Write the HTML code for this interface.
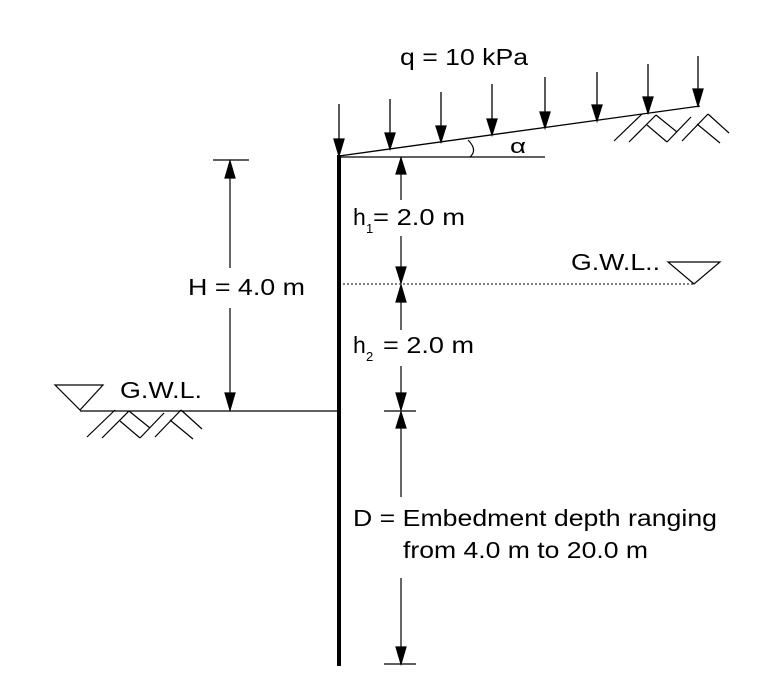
<!DOCTYPE html>
<html><head><meta charset="utf-8"><style>
html,body{margin:0;padding:0;background:#fff;}
svg{display:block;}
text{font-family:"Liberation Sans",Arial,sans-serif;fill:#000;}
</style></head><body>
<svg width="757" height="693" viewBox="0 0 757 693" xmlns="http://www.w3.org/2000/svg">
<defs>
<g id="hatch" stroke="#000" stroke-width="1.2" fill="none">
<line x1="614" y1="141" x2="642" y2="114"/>
<line x1="629" y1="142" x2="656" y2="115"/>
<line x1="647" y1="125" x2="667" y2="142"/>
<line x1="656" y1="115" x2="677" y2="132"/>
<line x1="667" y1="142" x2="691" y2="117"/>
<line x1="682" y1="141" x2="708" y2="114"/>
<line x1="708" y1="114" x2="729" y2="133"/>
<line x1="697" y1="124" x2="720" y2="143"/>
</g>
</defs>
<rect x="337" y="155" width="4" height="511" fill="#000"/>
<line x1="339" y1="156" x2="700" y2="106" stroke="#000" stroke-width="1.3"/>
<line x1="339" y1="157" x2="545" y2="157" stroke="#000" stroke-width="1.2"/>
<path d="M468,140 Q478,150 470,157" stroke="#000" fill="none" stroke-width="1.2"/>
<text x="510" y="153" font-size="20" textLength="16" lengthAdjust="spacingAndGlyphs">α</text>
<text x="400" y="65" font-size="23" textLength="128" lengthAdjust="spacingAndGlyphs">q = 10 kPa</text>
<g stroke="#000" stroke-width="1.3" fill="#000">
<line x1="339" y1="104" x2="339" y2="140"/><polygon points="334,139 344,139 339,156"/>
<line x1="390" y1="99" x2="390" y2="133"/><polygon points="385,133 395,133 390,149"/>
<line x1="441" y1="92" x2="441" y2="126"/><polygon points="436,126 446,126 441,142"/>
<line x1="492" y1="84" x2="492" y2="119"/><polygon points="487,119 497,119 492,135"/>
<line x1="545" y1="77" x2="545" y2="112"/><polygon points="540,112 550,112 545,128"/>
<line x1="597" y1="72" x2="597" y2="105"/><polygon points="592,105 602,105 597,121"/>
<line x1="648" y1="64" x2="648" y2="98"/><polygon points="643,97 653,97 648,113"/>
<line x1="698" y1="56" x2="698" y2="90"/><polygon points="693,89 703,89 698,106"/>
</g>
<use href="#hatch"/>
<use href="#hatch" transform="translate(-527,296)"/>
<g stroke="#000" stroke-width="1.2" fill="#000">
<line x1="213" y1="160" x2="249" y2="160"/>
<line x1="230" y1="160" x2="230" y2="268"/>
<line x1="230" y1="308" x2="230" y2="410"/>
<polygon points="225,178 235,178 230,161"/>
<polygon points="225,393 235,393 230,410"/>
</g>
<text x="188" y="295" font-size="23" textLength="117" lengthAdjust="spacingAndGlyphs">H = 4.0 m</text>
<line x1="80" y1="411" x2="339" y2="411" stroke="#000" stroke-width="1.2"/>
<polygon points="55,385 103,385 80,410" fill="none" stroke="#000" stroke-width="1.2"/>
<text x="120" y="398" font-size="23" textLength="82" lengthAdjust="spacingAndGlyphs">G.W.L.</text>
<line x1="339" y1="284" x2="695" y2="284" stroke="#000" stroke-width="1" stroke-dasharray="2,2"/>
<polygon points="668,262 720,262 694,284" fill="none" stroke="#000" stroke-width="1.2"/>
<text x="571" y="270" font-size="23" textLength="89" lengthAdjust="spacingAndGlyphs">G.W.L..</text>
<g stroke="#000" stroke-width="1.2" fill="#000">
<line x1="401" y1="157" x2="401" y2="200"/>
<polygon points="396,174 406,174 401,158"/>
<line x1="401" y1="236" x2="401" y2="284"/>
<polygon points="396,267 406,267 401,283"/>
<polygon points="396,302 406,302 401,285"/>
<line x1="401" y1="285" x2="401" y2="330"/>
<line x1="401" y1="366" x2="401" y2="410"/>
<polygon points="396,393 406,393 401,410"/>
<line x1="384" y1="411" x2="416" y2="411"/>
<polygon points="396,428 406,428 401,412"/>
<line x1="401" y1="412" x2="401" y2="497"/>
<line x1="401" y1="578" x2="401" y2="664"/>
<polygon points="396,647 406,647 401,664"/>
<line x1="384" y1="664" x2="416" y2="664"/>
</g>
<text x="353" y="225" font-size="23">h</text>
<text x="366" y="233" font-size="13">1</text>
<text x="373" y="225" font-size="23" textLength="92" lengthAdjust="spacingAndGlyphs">= 2.0 m</text>
<text x="353" y="353" font-size="23">h</text>
<text x="366" y="361" font-size="13">2</text>
<text x="383" y="353" font-size="23" textLength="91" lengthAdjust="spacingAndGlyphs">= 2.0 m</text>
<text x="353" y="526" font-size="23" textLength="364" lengthAdjust="spacingAndGlyphs">D = Embedment depth ranging</text>
<text x="403" y="558" font-size="23" textLength="245" lengthAdjust="spacingAndGlyphs">from 4.0 m to 20.0 m</text>
</svg>
</body></html>
